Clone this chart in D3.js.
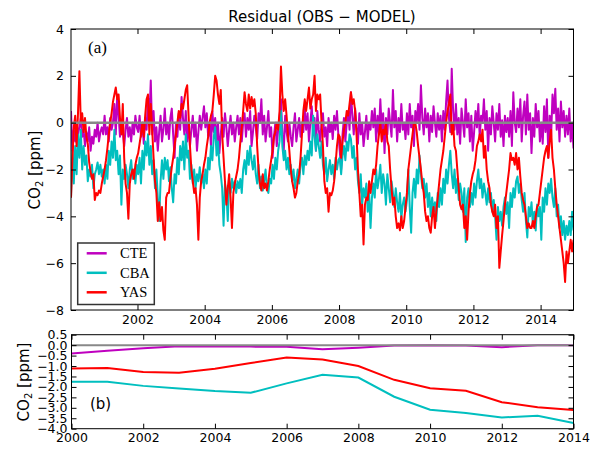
<!DOCTYPE html>
<html>
<head>
<meta charset="utf-8">
<script src="https://cdn.jsdelivr.net/npm/d3@7"></script>
<style>
  body { margin: 0; background: #fff; }
  text { font-family: "DejaVu Sans", sans-serif; }
</style>
</head>
<body>
<div id="chart"></div>
<script>
// residuals, 24 samples per year from 2000 to 2014 (one row per year)
const startYear = 2000;
const perYear = 24;

const cteResidual = [
  [0.5,-1.2,-0.3,-0.8, 0.0,-0.5,-0.2,0.2, -0.6,-0.3,-1.0,-0.4, -0.8,-0.2,-1.2,-0.6, -0.9,-0.3,-0.6,0.0, -0.8,-0.4,-0.2,-0.5],
  [0.3,-0.5,-0.2,-0.8, 0.2,-0.3,0.0,0.8, -0.5,1.2,0.3,-0.6, 0.1,-0.4,-1.0,-0.3, 0.2,-0.6,-0.2,-0.8, 0.0,-0.5,0.3,-0.2],
  [-0.4,0.3,-0.6,0.0, -0.9,0.2,-0.3,1.1, 0.2,1.8,-0.5,0.5, -0.8,-0.2,-1.2,-0.4, 0.3,-0.8,-0.3,0.6, -0.5,0.0,-0.7,0.2],
  [0.6,-0.5,-1.5,0.0, -0.6,0.4,-0.3,1.1, 0.2,-0.5,0.5,-0.8, 0.0,-1.0,-0.3,0.3, -0.6,0.0,-1.2,-0.4, 0.3,-0.3,0.2,0.7],
  [-0.2,0.4,-0.6,0.0, -1.0,0.5,-0.4,0.2, -0.8,0.0,-1.3,-0.5, 0.2,-0.6,0.4,-0.2, -1.0,-0.3,0.3,-0.5, 0.0,-0.8,-0.2,0.3],
  [-0.5,0.2,-0.8,0.0, 0.4,-0.6,0.2,-0.3, 0.5,-1.0,-0.4,0.3, -0.2,-0.7,0.4,0.0, 1.0,-0.5,0.3,-0.8, -0.2,0.5,-0.6,-0.2],
  [-1.5,-0.6,0.0,-1.0, -0.3,0.2,1.0,-0.5, -1.2,0.3,-0.4,-0.8, 0.0,-0.6,-1.0,-0.2, 0.4,-0.8,-0.3,0.2, -0.6,0.0,-0.4,0.6],
  [-0.3,0.4,-0.8,0.0, 0.7,-0.5,0.2,-1.2, 0.5,-0.3,-0.8,0.0, 0.4,-0.6,-0.2,-1.0, 0.2,-0.4,0.0,-0.7, 0.3,-0.3,0.5,-0.5],
  [-1.2,-2.0,-0.5,0.2, -0.8,0.0,0.5,-0.3, 1.3,0.3,-0.5,0.6, -0.2,-0.9,0.4,-0.5, 0.0,-1.0,-0.4,0.3, -0.7,0.0,-0.3,0.5],
  [-0.2,0.6,-0.8,0.3, -0.5,1.0,-0.3,0.4, -1.3,0.2,-0.5,0.6, 0.0,-0.6,1.4,-0.2, 0.5,-0.8,0.2,-0.4, 0.8,-0.3,0.0,-0.7],
  [0.4,-0.5,0.8,-0.2, 0.3,-1.0,0.5,0.0, 0.8,-0.3,1.6,0.2, -0.5,0.6,-0.2,0.4, -0.8,0.3,-0.4,0.7, 0.0,-0.6,0.4,-0.3],
  [0.3,-0.8,0.5,-0.3, 0.9,1.8,0.2,-0.4, 2.3,0.5,-0.3,0.8, -0.5,0.2,-0.9,0.6, 0.0,-0.6,1.0,-0.2, 0.4,-0.8,0.3,-1.2],
  [-0.4,0.5,-0.2,0.8, -0.6,0.3,0.0,1.0, -0.3,0.5,-1.2,0.2, -0.5,0.7,0.0,-0.8, 0.4,-0.3,0.8,-0.6, 0.1,-1.0,0.3,-0.4],
  [0.2,-0.6,0.5,-1.0, 1.3,0.0,-0.4,0.6, -0.2,1.0,-0.8,0.3, 0.9,-0.5,1.2,-0.3, 0.4,-1.3,0.2,-0.6, 0.8,-0.2,0.5,-0.8],
  [0.0,-0.9,0.7,-0.4, 1.0,-1.5,0.3,-0.6, 1.2,0.4,1.45,-0.3, 0.6,-0.8,0.9,-0.2, 0.5,-0.6,0.3,-0.5, 0.6,-0.8,0.0,-1.1]
];

const cbaResidual = [
  [-3.2,-1.2,-2.6,-1.0, -2.2,-0.5,-1.5,-0.3, -2.0,-1.0,-1.8,-1.4, -2.5,-2.0,-2.3,-1.8, -2.8,-2.2,-2.0,-1.7, -2.2,-1.8,-2.3,-2.0],
  [-2.6,-1.8,-2.4,-1.2, -1.8,-0.8,-1.5,-0.3, -1.6,-1.2,-2.2,-1.4, -3.5,-2.0,-2.4,-1.8, -2.2,-2.8,-2.0,-1.6, -2.4,-2.0,-2.6,-1.8],
  [-2.2,-1.5,-2.6,-1.2, -2.0,-0.8,-1.4,-0.5, -1.8,-1.0,-2.2,-1.6, -2.8,-2.0,-3.2,-4.2, -2.5,-1.6,-2.4,-1.5, -2.0,-1.6,-2.5,-1.9],
  [-2.8,-3.4,-2.2,-2.6, -1.5,-2.2,-1.0,-1.6, -0.8,-2.0,-0.5,-1.5, -1.2,-2.4,-1.8,-2.6, -2.0,-2.8,-2.2,-2.5, -1.9,-2.6,-2.2,-2.8],
  [-2.0,-2.6,-1.5,-2.0, -1.0,-1.6,-0.6,-0.2, -1.4,-0.8,-1.8,-2.2, -2.8,-4.4,-2.6,-3.0, -4.2,-2.5,-3.0,-2.4, -2.8,-2.5,-3.0,-2.5],
  [-2.8,-2.4,-3.0,-2.0, -1.6,-2.2,-1.2,-1.8, -1.0,-1.6,-2.0,-1.4, -2.2,-2.6,-1.8,-2.8, -2.3,-2.9,-2.5,-2.0, -2.8,-3.0,-2.4,-2.6],
  [-1.8,-2.4,-1.5,-2.0, -1.2,-0.8,0.5,-1.0, -1.6,-1.2,-2.0,-1.5, -2.2,-1.8,-2.5,-2.0, -2.8,-2.4,-2.0,-2.6, -1.8,-1.5,-2.2,-1.4],
  [-1.8,-1.2,-1.6,-0.8, -1.4,0.3,-0.6,-1.2, -0.5,-1.0,-1.5,-0.8, -1.8,-2.2,-1.5,-2.5, -2.0,-1.6,-2.2,-1.8, -2.4,-1.5,-2.0,-1.6],
  [-1.5,-2.2,-1.4,-1.0, -1.6,-0.8,-1.2,-0.5, -0.7,-1.5,-1.0,-2.0, -1.5,-2.5,-3.0,-2.2, -3.5,-2.8,-3.2,-2.6, -3.8,-3.0,-4.5,-3.2],
  [-2.6,-3.2,-2.0,-2.8, -2.4,-1.8,-3.0,-2.2, -2.6,-3.5,-2.2,-2.8, -3.4,-2.5,-3.0,-3.6, -2.8,-3.4,-3.8,-3.0, -4.1,-3.5,-3.2,-3.8],
  [-3.3,-2.0,-3.6,-4.7, -3.0,-2.4,-3.2,-2.0, -2.6,-1.4,-2.2,-2.8, -2.4,-3.2,-2.6,-3.6, -3.0,-4.0,-3.2,-3.8, -3.4,-4.2,-3.0,-3.6],
  [-2.8,-3.5,-2.4,-3.0, -2.0,-2.6,-1.8,-1.2, -2.2,-2.8,-2.0,-3.0, -2.4,-3.3,-2.6,-3.0, -3.8,-2.8,-5.1,-3.2, -2.8,-3.6,-3.0,-3.5],
  [-2.6,-3.2,-2.5,-2.0, -2.8,-2.4,-3.2,-2.6, -3.0,-3.5,-2.8,-3.4, -3.0,-3.8,-3.3,-4.0, -5.0,-3.6,-4.2,-3.8, -4.4,-3.6,-3.2,-3.9],
  [-3.4,-4.5,-3.0,-3.6, -2.8,-3.2,-2.5,-2.3, -3.0,-2.6,-3.3,-3.8, -3.0,-4.2,-4.9,-3.6, -4.0,-3.4,-4.4,-3.8, -4.6,-3.5,-4.0,-3.6],
  [-5.0,-3.2,-3.8,-2.8, -3.5,-2.6,-3.0,-2.4, -3.2,-3.6,-2.8,-4.0, -3.5,-4.5,-4.0,-4.8, -4.2,-5.0,-4.4,-4.8, -4.2,-4.8,-3.8,-4.6]
];

const yasResidual = [
  [-3.2,-1.6,-0.2,0.3, -1.0,0.4,2.2,0.0, 0.4,-0.4,0.2,-0.6, -0.9,-1.7,-2.1,-2.4, -2.2,-3.3,-3.0,-3.1, -2.9,-3.0,-2.6,-2.3],
  [-2.0,-1.6,-1.1,-0.5, 0.0,0.4,0.9,1.2, 1.5,1.0,1.2,0.2, -0.5,0.8,-1.5,-2.6, -3.0,-4.1,-2.6,-2.2, -2.0,-2.4,-1.8,-1.5],
  [-1.3,-0.9,-0.5,0.0, -0.6,0.3,1.0,1.2, -0.5,0.8,-0.3,-1.5, -2.5,-3.0,-4.2,-3.4, -4.2,-3.6,-4.6,-5.0, -3.2,-3.0,-3.0,-2.4],
  [-1.9,-1.5,-1.0,-0.5, 0.0,0.5,0.2,0.8, 0.6,1.0,1.4,1.6, 0.3,-1.0,-2.0,-2.5, -3.0,-2.8,-3.5,-5.0, -3.2,-2.5,-2.2,-1.8],
  [-1.5,-1.0,-0.6,0.0, 0.3,0.5,1.2,2.0, 1.8,1.2,0.8,1.4, -0.5,-1.5,-2.5,-3.5, -2.8,-2.2,-3.2,-4.5, -3.0,-2.6,-2.3,-2.0],
  [-1.5,-0.8,-0.2,0.5, 1.3,0.8,0.5,1.2, 0.6,1.1,0.7,1.0, 0.4,-1.0,-2.0,-2.6, -2.9,-2.2,-2.8,-2.6, -2.9,-2.5,-2.0,-1.6],
  [-1.2,-0.6,-0.4,0.0, -0.3,0.5,2.4,1.2, 0.5,1.0,0.3,-0.5, -1.2,-2.0,-2.5,-2.8, -3.2,-3.0,-2.5,-2.2, -1.5,-0.5,0.5,1.0],
  [0.5,1.0,1.5,0.6, 1.0,1.2,2.0,0.5, 1.2,1.0,1.2,0.0, -1.0,-2.5,-3.0,-2.8, -3.8,-3.0,-3.1,-2.9, -2.5,-1.8,-1.0,-0.5],
  [-0.6,-1.5,-0.8,-0.3, 0.0,0.5,0.3,0.8, 1.3,0.8,1.0,0.5, -0.5,-2.0,-3.0,-4.0, -3.5,-5.2,-3.5,-3.2, -3.3,-2.5,-3.0,-2.5],
  [-2.0,-2.2,-1.8,-1.0, -0.5,0.0,-0.8,-0.3, -0.5,0.0,-0.8,-1.0, -2.0,-2.8,-3.5,-3.2, -4.0,-4.5,-4.3,-4.6, -4.0,-4.5,-4.2,-3.6],
  [-3.0,-2.0,-1.5,-1.0, -0.5,0.0,0.0,-0.4, -1.0,-1.5,-2.0,-2.6, -3.0,-3.8,-4.2,-4.0, -4.5,-4.7,-4.0,-3.6, -4.5,-3.8,-3.2,-2.6],
  [-2.0,-1.6,-1.2,-0.6, 0.0,0.5,0.8,1.2, -0.5,0.0,-1.0,-1.2, -2.0,-2.8,-3.5,-3.7, -3.5,-4.5,-4.0,-5.0, -3.8,-3.0,-2.5,-2.2],
  [-2.0,-1.6,-1.0,-0.8, -0.5,-0.8,-0.3,-1.5, -1.0,-2.0,-2.5,-2.8, -3.5,-3.8,-4.0,-3.5, -4.5,-4.0,-6.2,-5.5, -4.8,-4.2,-3.5,-3.0],
  [-2.5,-2.0,-1.3,-1.6, -1.5,-1.8,-1.3,-2.0, -1.5,-2.3,-3.0,-3.3, -3.5,-4.0,-4.5,-4.3, -4.5,-4.5,-4.2,-4.5, -4.0,-3.6,-3.5,-3.0],
  [-2.5,-2.0,-1.5,-1.2, -1.0,-1.5,-0.8,-0.3, -1.5,-2.0,-2.8,-3.5, -4.0,-4.5,-5.0,-5.5, -6.0,-6.8,-5.5,-6.0, -5.5,-5.0,-5.5,-5.0]
];

// annual mean residuals
const annualYears = [2000,2001,2002,2003,2004,2005,2006,2007,2008,2009,2010,2011,2012,2013,2014];
const cteAnnual = [-0.40,-0.27,-0.15,-0.05,-0.06,-0.07,-0.08,-0.20,-0.12,-0.02,0.00,-0.02,-0.10,0.00,0.00];
const cbaAnnual = [-1.75,-1.75,-1.95,-2.07,-2.20,-2.28,-1.83,-1.42,-1.55,-2.47,-3.09,-3.25,-3.46,-3.38,-3.73];
const yasAnnual = [-1.12,-1.10,-1.29,-1.32,-1.13,-0.86,-0.59,-0.69,-1.00,-1.66,-2.06,-2.18,-2.73,-2.97,-3.11];

const seriesNames = ["CTE", "CBA", "YAS"];
const colors = { CTE: "#bf00bf", CBA: "#00bfbf", YAS: "#ff0000" };

const topTicksX = [2002, 2004, 2006, 2008, 2010, 2012, 2014];
const topTicksY = [-8, -6, -4, -2, 0, 2, 4];
const botTicksX = [2000, 2002, 2004, 2006, 2008, 2010, 2012, 2014];
const botTicksY = [0.5, 0.0, -0.5, -1.0, -1.5, -2.0, -2.5, -3.0, -3.5, -4.0];

const width = 593, height = 449;
const minus = s => s.replace("-", "\u2212");

const svg = d3.select("#chart").append("svg")
    .attr("width", width)
    .attr("height", height);

svg.append("rect").attr("width", width).attr("height", height).attr("fill", "#fff");

function toPoints(rows) {
    return rows.flat().map((v, i) => ({ t: startYear + (i + 0.5) / perYear, v: v }));
}

const weekly = {
    CTE: toPoints(cteResidual),
    CBA: toPoints(cbaResidual),
    YAS: toPoints(yasResidual)
};
const annual = { CTE: cteAnnual, CBA: cbaAnnual, YAS: yasAnnual };

// ---------- panel (a) ----------
const allT = weekly.CTE.map(d => d.t);
const xTop = d3.scaleLinear().domain([d3.min(allT), d3.max(allT)]).range([71, 573.5]);
const yTop = d3.scaleLinear().domain([-8, 4]).range([310, 29]);

svg.append("clipPath").attr("id", "clipTop")
    .append("rect").attr("x", 71).attr("y", 29).attr("width", 502.5).attr("height", 281);

const gTop = svg.append("g").attr("clip-path", "url(#clipTop)");
const lineTop = d3.line().x(d => xTop(d.t)).y(d => yTop(d.v));

seriesNames.forEach(name => {
    gTop.append("path")
        .datum(weekly[name])
        .attr("d", lineTop)
        .attr("fill", "none")
        .attr("stroke", colors[name])
        .attr("stroke-width", 2)
        .attr("stroke-linejoin", "round");
});

gTop.append("line")
    .attr("x1", 71).attr("x2", 573.5)
    .attr("y1", yTop(0)).attr("y2", yTop(0))
    .attr("stroke", "#888").attr("stroke-width", 2.5);

function styleAxis(g) {
    g.select(".domain").remove();
    g.selectAll(".tick line").attr("stroke", "#000").attr("stroke-width", 1);
    g.selectAll(".tick text").attr("fill", "#000").style("font-size", "12.5px")
        .style("font-family", "DejaVu Sans, sans-serif");
}

svg.append("g").attr("transform", "translate(0,310)")
    .call(d3.axisBottom(xTop).tickValues(topTicksX).tickFormat(d3.format("d")).tickSize(-5).tickPadding(5))
    .call(styleAxis);
svg.append("g").attr("transform", "translate(0,29)")
    .call(d3.axisTop(xTop).tickValues(topTicksX).tickFormat("").tickSize(-5))
    .call(styleAxis);
svg.append("g").attr("transform", "translate(71,0)")
    .call(d3.axisLeft(yTop).tickValues(topTicksY).tickFormat(d => minus(String(d))).tickSize(-5).tickPadding(7))
    .call(styleAxis);
svg.append("g").attr("transform", "translate(573.5,0)")
    .call(d3.axisRight(yTop).tickValues(topTicksY).tickFormat("").tickSize(-5))
    .call(styleAxis);

svg.append("rect").attr("x", 71).attr("y", 29).attr("width", 502.5).attr("height", 281)
    .attr("fill", "none").attr("stroke", "#000").attr("stroke-width", 1);

svg.append("text").attr("x", 322).attr("y", 22).attr("text-anchor", "middle")
    .style("font-size", "15px").text("Residual (OBS \u2212 MODEL)");

svg.append("text").attr("x", 88).attr("y", 53)
    .style("font-family", "Liberation Serif, serif").style("font-size", "17px").text("(a)");

function yLabel(x, y) {
    const t = svg.append("text")
        .attr("transform", `translate(${x},${y}) rotate(-90)`)
        .attr("text-anchor", "middle")
        .style("font-size", "15px");
    t.append("tspan").text("CO");
    t.append("tspan").attr("dy", 3).style("font-size", "10px").text("2");
    t.append("tspan").attr("dy", -3).text(" [ppm]");
}
yLabel(40, 170);

// legend
const legend = svg.append("g");
legend.append("rect").attr("x", 77.7).attr("y", 243).attr("width", 76.6).attr("height", 61.5)
    .attr("fill", "#fff").attr("stroke", "#333").attr("stroke-width", 1.5);
seriesNames.forEach((name, i) => {
    const ly = 253.3 + i * 19.5;
    legend.append("line").attr("x1", 86.7).attr("x2", 106.7).attr("y1", ly).attr("y2", ly)
        .attr("stroke", colors[name]).attr("stroke-width", 2.5);
    legend.append("text").attr("x", 120).attr("y", ly + 5)
        .style("font-family", "Liberation Serif, serif").style("font-size", "14.5px").text(name);
});

// ---------- panel (b) ----------
const xBot = d3.scaleLinear().domain([2000, 2014]).range([71.5, 573.5]);
const yBot = d3.scaleLinear().domain([-4, 0.5]).range([428.7, 334.7]);

const lineBot = d3.line().x((d, i) => xBot(annualYears[i])).y(d => yBot(d));
seriesNames.forEach(name => {
    svg.append("path")
        .datum(annual[name])
        .attr("d", lineBot)
        .attr("fill", "none")
        .attr("stroke", colors[name])
        .attr("stroke-width", 2);
});
svg.append("line")
    .attr("x1", 71.5).attr("x2", 573.5)
    .attr("y1", yBot(0)).attr("y2", yBot(0))
    .attr("stroke", "#888").attr("stroke-width", 2);

svg.append("g").attr("transform", "translate(0,428.7)")
    .call(d3.axisBottom(xBot).tickValues(botTicksX).tickFormat(d3.format("d")).tickSize(-5).tickPadding(4))
    .call(styleAxis);
svg.append("g").attr("transform", "translate(0,334.7)")
    .call(d3.axisTop(xBot).tickValues(botTicksX).tickFormat("").tickSize(-5))
    .call(styleAxis);
svg.append("g").attr("transform", "translate(71.5,0)")
    .call(d3.axisLeft(yBot).tickValues(botTicksY).tickFormat(d => minus(d3.format(".1f")(d))).tickSize(-5).tickPadding(4))
    .call(styleAxis);
svg.append("g").attr("transform", "translate(573.5,0)")
    .call(d3.axisRight(yBot).tickValues(botTicksY).tickFormat("").tickSize(-5))
    .call(styleAxis);

svg.append("rect").attr("x", 71.5).attr("y", 334.7).attr("width", 502).attr("height", 94)
    .attr("fill", "none").attr("stroke", "#000").attr("stroke-width", 1);

svg.append("text").attr("x", 90).attr("y", 409).style("font-size", "15px").text("(b)");
yLabel(29, 382);
</script>
</body>
</html>
